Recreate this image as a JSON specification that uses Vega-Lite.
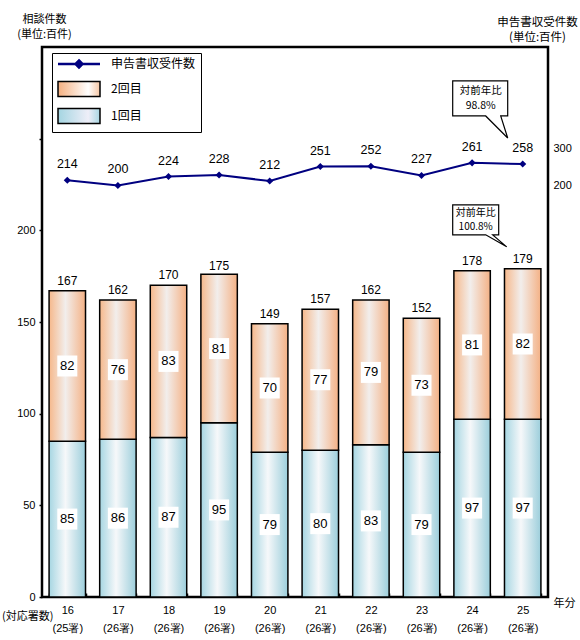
{
  "$schema": "https://vega.github.io/schema/vega-lite/v6.json",
  "width": 506,
  "height": 550,
  "autosize": {"type": "none"},
  "padding": {"left": 42, "top": 47, "right": 32, "bottom": 43},
  "background": "white",
  "title": {"text": "(対応署数)", "orient": "bottom", "anchor": "start", "frame": "group", "dx": -40, "offset": -22, "font": "Noto Sans CJK JP", "fontSize": 11, "fontWeight": "normal", "color": "black", "baseline": "top"},
  "datasets": {
    "counts": [
      {"year": "16", "series": "1回目", "count": 85}, {"year": "16", "series": "2回目", "count": 82},
      {"year": "17", "series": "1回目", "count": 86}, {"year": "17", "series": "2回目", "count": 76},
      {"year": "18", "series": "1回目", "count": 87}, {"year": "18", "series": "2回目", "count": 83},
      {"year": "19", "series": "1回目", "count": 95}, {"year": "19", "series": "2回目", "count": 81},
      {"year": "20", "series": "1回目", "count": 79}, {"year": "20", "series": "2回目", "count": 70},
      {"year": "21", "series": "1回目", "count": 80}, {"year": "21", "series": "2回目", "count": 77},
      {"year": "22", "series": "1回目", "count": 83}, {"year": "22", "series": "2回目", "count": 79},
      {"year": "23", "series": "1回目", "count": 79}, {"year": "23", "series": "2回目", "count": 73},
      {"year": "24", "series": "1回目", "count": 97}, {"year": "24", "series": "2回目", "count": 81},
      {"year": "25", "series": "1回目", "count": 97}, {"year": "25", "series": "2回目", "count": 82}
    ],
    "yearly": [
      {"year": "16", "total": 167, "filings": 214},
      {"year": "17", "total": 162, "filings": 200},
      {"year": "18", "total": 170, "filings": 224},
      {"year": "19", "total": 175, "filings": 228},
      {"year": "20", "total": 149, "filings": 212},
      {"year": "21", "total": 157, "filings": 251},
      {"year": "22", "total": 162, "filings": 252},
      {"year": "23", "total": 152, "filings": 227},
      {"year": "24", "total": 178, "filings": 261},
      {"year": "25", "total": 179, "filings": 258}
    ],
    "noteFilings": [{"year": "25", "filings": 258, "text": "対前年比\n98.8%"}],
    "noteTotal": [{"year": "25", "total": 179, "text": "対前年比\n100.8%"}]
  },
  "resolve": {"scale": {"y": "independent"}},
  "layer": [
    {
      "layer": [
        {
          "data": {"name": "yearly"},
          "mark": {"type": "line", "strokeWidth": 2},
          "encoding": {
            "x": {"field": "year", "type": "ordinal", "sort": null,
              "scale": {"paddingInner": 0.28, "paddingOuter": 0.14},
              "axis": {"title": "年分", "titleX": 522, "titleY": 6, "titleAngle": 0, "titleBaseline": "middle", "titleAlign": "center", "titleFont": "Noto Sans CJK JP", "titleFontSize": 11, "titleFontWeight": "normal",
                "labelAngle": 0, "labelExpr": "isValid(datum.value) && datum.label !== '' ? [datum.label, datum.value === '16' ? '(25署)' : '(26署)'] : ''", "labelLineHeight": 18, "labelBaseline": "top", "labelPadding": 11, "tickBand": "extent", "tickSize": -4, "tickWidth": 1.5, "domain": false}},
            "y": {"field": "filings", "type": "quantitative", "scale": {"domain": [-912, 574], "nice": false, "zero": false},
              "axis": {"orient": "right", "title": ["申告書収受件数", "(単位:百件)"], "titleAngle": 0, "titleAlign": "center", "titleBaseline": "top", "titleX": -11, "titleY": -31, "titleFont": "Noto Sans CJK JP", "titleFontSize": 11.5, "titleFontWeight": "normal", "titleLineHeight": 15,
                "values": [200, 300], "ticks": false, "domain": false, "labelPadding": 5, "labelAlign": "left"}},
            "stroke": {"datum": "申告書収受件数", "type": "nominal",
              "scale": {"domain": ["申告書収受件数", "2回目", "1回目"], "range": ["#000080", "#000000", "#000000"]},
              "legend": {"orient": "none", "legendX": 10, "legendY": 6, "title": null, "direction": "vertical", "padding": 5, "fillColor": "white", "strokeColor": "black",
                "labelFont": "Noto Sans CJK JP", "labelFontSize": 12, "labelColor": "black", "symbolSize": 100, "symbolOffset": 16, "labelOffset": 26, "rowPadding": 5,
                "symbolType": {"expr": "datum.value === '申告書収受件数' ? 'M-4.2,0H4.2M0,-0.7L0.7,0L0,0.7L-0.7,0Z' : 'M-4.2,-1.5H4.2V1.5H-4.2Z'"},
                "symbolFillColor": {"expr": "datum.value === '申告書収受件数' ? '#000080' : (datum.value === '2回目' ? {id: 'lg_orange_swatch', gradient: 'linear', x1: 0, y1: 0, x2: 1, y2: 0, stops: [{offset: 0, color: '#f5b080'}, {offset: 0.72, color: '#ffffff'}, {offset: 1, color: '#f6c6a4'}]} : {id: 'lg_blue_swatch', gradient: 'linear', x1: 0, y1: 0, x2: 1, y2: 0, stops: [{offset: 0, color: '#a4d5e1'}, {offset: 0.72, color: '#eeeef8'}, {offset: 1, color: '#a8d6e2'}]})"},
                "symbolStrokeWidth": {"expr": "datum.value === '申告書収受件数' ? 2.5 : 1.5"},
                "symbolOpacity": 1
              }}
          }
        },
        {
          "data": {"name": "yearly"},
          "mark": {"type": "point", "shape": "diamond", "size": 50, "filled": true, "fill": "#000080", "opacity": 1},
          "encoding": {
            "x": {"field": "year", "type": "ordinal", "sort": null},
            "y": {"field": "filings", "type": "quantitative", "scale": {"domain": [-912, 574], "nice": false, "zero": false}}
          }
        },
        {
          "data": {"name": "yearly"},
          "mark": {"type": "text", "font": "Liberation Sans", "fontSize": 12.5, "color": "black", "baseline": "middle", "align": "center", "dy": -16},
          "encoding": {
            "x": {"field": "year", "type": "ordinal", "sort": null},
            "y": {"field": "filings", "type": "quantitative", "scale": {"domain": [-912, 574], "nice": false, "zero": false}},
            "text": {"field": "filings", "type": "quantitative"}
          }
        },
        {
          "data": {"name": "noteFilings"},
          "layer": [
            {"mark": {"type": "point", "shape": "M-70,-83H-15V-48H-22L-15,-26L-37,-48H-70Z", "size": 4, "filled": true, "fill": "white", "stroke": "black", "strokeWidth": 1.2, "opacity": 1}},
            {"mark": {"type": "text", "font": "Noto Sans CJK JP", "fontSize": 10.5, "color": "black", "baseline": "top", "align": "center", "lineBreak": "\n", "lineHeight": 15, "dx": -42, "dy": -78}, "encoding": {"text": {"field": "text"}}}
          ],
          "encoding": {
            "x": {"field": "year", "type": "ordinal", "sort": null},
            "y": {"field": "filings", "type": "quantitative", "scale": {"domain": [-912, 574], "nice": false, "zero": false}}
          }
        }
      ]
    },
    {
      "layer": [
        {
          "data": {"name": "counts"},
          "transform": [
            {"stack": "count", "groupby": ["year"], "sort": [{"field": "series", "order": "ascending"}], "as": ["lo", "hi"]},
            {"filter": "datum.series === '1回目'"}
          ],
          "mark": {"type": "bar", "stroke": "black", "strokeWidth": 1.5, "fill": {"gradient": "linear", "x1": 0, "y1": 0, "x2": 1, "y2": 0, "stops": [{"offset": 0, "color": "#a6d6e2"}, {"offset": 0.45, "color": "#f6f8fa"}, {"offset": 1, "color": "#9ccedb"}]}},
          "encoding": {
            "x": {"field": "year", "type": "ordinal", "sort": null},
            "y": {"field": "hi", "type": "quantitative", "scale": {"domain": [0, 300], "nice": false, "zero": false},
              "axis": {"orient": "left", "title": ["相談件数", "(単位:百件)"], "titleAngle": 0, "titleAlign": "center", "titleBaseline": "top", "titleX": 2, "titleY": -34, "titleFont": "Noto Sans CJK JP", "titleFontSize": 11, "titleFontWeight": "normal", "titleLineHeight": 15,
                "values": [0, 50, 100, 150, 200, 250], "labelExpr": "datum.value > 200 ? '' : datum.label", "tickSize": 3, "tickWidth": 1.5, "labelPadding": 4, "domain": false}},
            "y2": {"field": "lo"}
          }
        },
        {
          "data": {"name": "counts"},
          "transform": [
            {"stack": "count", "groupby": ["year"], "sort": [{"field": "series", "order": "ascending"}], "as": ["lo", "hi"]},
            {"filter": "datum.series === '2回目'"}
          ],
          "mark": {"type": "bar", "stroke": "black", "strokeWidth": 1.5, "fill": {"gradient": "linear", "x1": 0, "y1": 0, "x2": 1, "y2": 0, "stops": [{"offset": 0, "color": "#f6b88b"}, {"offset": 0.45, "color": "#f2eeec"}, {"offset": 1, "color": "#f4b185"}]}},
          "encoding": {
            "x": {"field": "year", "type": "ordinal", "sort": null},
            "y": {"field": "hi", "type": "quantitative", "scale": {"domain": [0, 300], "nice": false, "zero": false}},
            "y2": {"field": "lo"}
          }
        },
        {
          "data": {"name": "counts"},
          "transform": [
            {"stack": "count", "groupby": ["year"], "sort": [{"field": "series", "order": "ascending"}], "as": ["lo", "hi"]},
            {"fold": ["lo", "hi"], "as": ["edge", "pos"]},
            {"aggregate": [{"op": "mean", "field": "pos", "as": "mid"}], "groupby": ["year", "series", "count"]}
          ],
          "layer": [
            {"mark": {"type": "point", "shape": "M-10,-10.5H10V10.5H-10Z", "size": 4, "filled": true, "fill": "white", "strokeWidth": 0, "opacity": 1}},
            {"mark": {"type": "text", "font": "Liberation Sans", "fontSize": 13, "color": "black", "baseline": "middle", "align": "center"}, "encoding": {"text": {"field": "count", "type": "quantitative"}}}
          ],
          "encoding": {
            "x": {"field": "year", "type": "ordinal", "sort": null},
            "y": {"field": "mid", "type": "quantitative", "scale": {"domain": [0, 300], "nice": false, "zero": false}}
          }
        },
        {
          "data": {"name": "yearly"},
          "mark": {"type": "text", "font": "Liberation Sans", "fontSize": 12, "color": "black", "baseline": "middle", "align": "center", "dy": -10},
          "encoding": {
            "x": {"field": "year", "type": "ordinal", "sort": null},
            "y": {"field": "total", "type": "quantitative", "scale": {"domain": [0, 300], "nice": false, "zero": false}},
            "text": {"field": "total", "type": "quantitative"}
          }
        },
        {
          "data": {"name": "noteTotal"},
          "layer": [
            {"mark": {"type": "point", "shape": "M-70,-64H-24V-34H-30L-16,-22L-37,-34H-70Z", "size": 4, "filled": true, "fill": "white", "stroke": "black", "strokeWidth": 1.2, "opacity": 1}},
            {"mark": {"type": "text", "font": "Noto Sans CJK JP", "fontSize": 10, "color": "black", "baseline": "top", "align": "center", "lineBreak": "\n", "lineHeight": 14, "dx": -47, "dy": -61}, "encoding": {"text": {"field": "text"}}}
          ],
          "encoding": {
            "x": {"field": "year", "type": "ordinal", "sort": null},
            "y": {"field": "total", "type": "quantitative", "scale": {"domain": [0, 300], "nice": false, "zero": false}}
          }
        }
      ]
    }
  ],
  "config": {
    "view": {"stroke": "#000000", "strokeWidth": 2.5},
    "axis": {"labelFont": "Liberation Sans Narrow, Liberation Sans", "labelFontSize": 11, "labelColor": "black", "titleColor": "black", "tickColor": "black", "domainColor": "black", "grid": false},
    "text": {"font": "Liberation Sans"}
  }
}
